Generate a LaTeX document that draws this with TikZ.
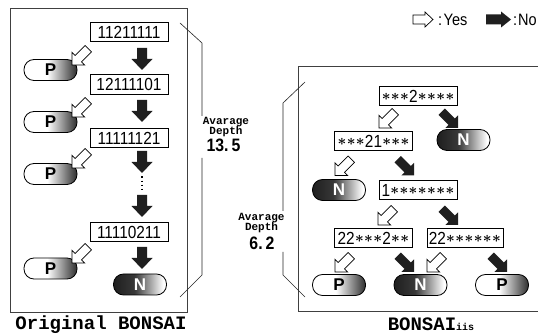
\documentclass[tikz,border=0pt]{standalone}
\usepackage{fontspec}
\setmainfont{Liberation Sans}
\newfontfamily\condfont[FakeStretch=0.88]{Liberation Sans}
\newfontfamily\pnfont{Liberation Sans}
\newfontfamily\courfont{Liberation Mono}
\pgfdeclarehorizontalshading{pshade}{100bp}{color(0bp)=(white); color(25bp)=(white); color(47bp)=(white); color(75bp)=(black!82); color(100bp)=(black!82)}
\pgfdeclarehorizontalshading{nshade}{100bp}{color(0bp)=(black!88); color(25bp)=(black!88); color(45bp)=(black!78); color(72bp)=(white); color(100bp)=(white)}
\newcommand{\ak}{\makebox[9.2pt]{\raisebox{1.4pt}{\scalebox{0.88}{\boldmath$\ast$}}}}
\tikzset{
  codebox/.style={draw=black, line width=0.8pt, minimum width=78pt, minimum height=19.5pt, inner sep=0pt, font=\condfont\fontsize{17.5}{20}\selectfont},
  pill/.style={draw=black, line width=0.8pt, rounded corners=10pt, minimum width=53pt, minimum height=21pt, inner sep=0pt, font=\pnfont\bfseries\fontsize{17}{20}\selectfont},
  pnode/.style={pill, shading=pshade},
  nnode/.style={pill, shading=nshade, text=white},
  panel/.style={draw=black!75, line width=0.9pt},
  bracket/.style={draw=black!85, line width=0.6pt},
  yesarrow/.style={draw=black, fill=white, line width=0.7pt, line join=miter},
  noarrow/.style={fill=black!88},
  lbl/.style={anchor=base, inner sep=0pt, font=\courfont\bfseries\fontsize{11}{12}\selectfont},
  lblnum/.style={anchor=base, inner sep=0pt, font=\condfont\bfseries\fontsize{18}{20}\selectfont},
  legtext/.style={anchor=base west, inner sep=0pt, font=\condfont\fontsize{16.5}{20}\selectfont},
  yesdiag/.pic={\filldraw[yesarrow] (0,0) -- (-9,9) -- (-9,4.5) -- (-23,4.5) -- (-23,-4.5) -- (-9,-4.5) -- (-9,-9) -- cycle;},
  nodiag/.pic={\fill[noarrow] (0,0) -- (-9,9) -- (-9,4.5) -- (-23,4.5) -- (-23,-4.5) -- (-9,-4.5) -- (-9,-9) -- cycle;},
  novert/.pic={\fill[noarrow] (0,0) -- (-11,10.5) -- (-11,5) -- (-22,5) -- (-22,-5) -- (-11,-5) -- (-11,-10.5) -- cycle;},
  yesleg/.pic={\filldraw[yesarrow] (0,0) -- (-8,7.5) -- (-8,4.5) -- (-20,4.5) -- (-20,-4.5) -- (-8,-4.5) -- (-8,-7.5) -- cycle;},
  noleg/.pic={\fill[noarrow] (0,0) -- (-10,8) -- (-10,5) -- (-25,5) -- (-25,-5) -- (-10,-5) -- (-10,-8) -- cycle;}
}
\begin{document}
\begin{tikzpicture}[x=1pt,y=-1pt]
\useasboundingbox (0,0) rectangle (538,336);
\fill[white] (0,0) rectangle (538,336);

% legend
\pic at (433,19.5) {yesleg};
\node[legtext] (yes) at (438,26) {:\kern1.5pt Yes};
\pic at (511,19.5) {noleg};
\node[legtext] (no) at (513,26) {:\kern1pt No};

% ---------------- left panel ----------------
\draw[panel] (10,8) rectangle (187,312);
\node[codebox] (b1) at (129,32) {11211111};
\node[codebox] (b2) at (129,84.5) {12111101};
\node[codebox] (b3) at (129,138) {11111121};
\node[codebox] (b4) at (129,232) {11110211};
\node[pnode] (p1) at (50.5,70) {P};
\node[pnode] (p2) at (50.5,122) {P};
\node[pnode] (p3) at (50.5,174) {P};
\node[pnode] (p4) at (50.5,268.5) {P};
\node[nnode] (n1) at (140,284.5) {N};

\pic[rotate=-90] at (142,70) {novert};
\pic[rotate=-90] at (142,122) {novert};
\pic[rotate=-90] at (142,173) {novert};
\pic[rotate=-90] at (142,217) {novert};
\pic[rotate=-90] at (142,269) {novert};
\draw[line width=1.3pt, dash pattern=on 1.5pt off 2.6pt] (142,176.5) -- (142,192);

\pic[rotate=-135] at (72,65) {yesdiag};
\pic[rotate=-135] at (72,117) {yesdiag};
\pic[rotate=-135] at (72,168) {yesdiag};
\pic[rotate=-135] at (72,263) {yesdiag};

% left bracket and label
\coordinate (lbt) at (180,23);
\coordinate (lbb) at (180,297);
\draw[bracket] (lbt) -- (202,43) -- (202,116);
\draw[bracket] (202,158) -- (202,275) -- (lbb);
\node[lbl] (la1) at (226,125) {Avarage};
\node[lbl] (la2) at (226,134.5) {Depth};
\node[lblnum] (la3) at (223.5,152) {13.\,5};

\node[anchor=base, inner sep=0pt, font=\courfont\bfseries\fontsize{19}{20}\selectfont] (t1) at (101,330) {Original BONSAI};

% ---------------- right panel ----------------
\draw[panel] (539,66.7) -- (298,66.7) -- (298,311.5) -- (539,311.5);
\node[codebox, minimum height=18.5pt] (r1) at (418,96) {\ak\ak\ak2\ak\ak\ak\ak};
\node[codebox] (r2) at (373.5,141) {\ak\ak\ak21\ak\ak\ak};
\node[codebox] (r3) at (418,190) {1\ak\ak\ak\ak\ak\ak\ak};
\node[codebox] (r4) at (373.5,238) {22\ak\ak\ak2\ak\ak};
\node[codebox, minimum width=76pt] (r5) at (465,238) {22\ak\ak\ak\ak\ak\ak};
\node[nnode] (rn1) at (463.5,140) {N};
\node[nnode] (rn2) at (339,190) {N};
\node[pnode] (rp1) at (339,285) {P};
\node[nnode] (rn3) at (420.5,285) {N};
\node[pnode] (rp2) at (502,285) {P};

\pic[rotate=-135] at (379,128) {yesdiag};
\pic[rotate=-45] at (458,128) {nodiag};
\pic[rotate=-135] at (335,175.5) {yesdiag};
\pic[rotate=-45] at (414,175.5) {nodiag};
\pic[rotate=-135] at (378,225) {yesdiag};
\pic[rotate=-45] at (458,225) {nodiag};
\pic[rotate=-135] at (335,272) {yesdiag};
\pic[rotate=-45] at (414,272) {nodiag};
\pic[rotate=-135] at (427,272) {yesdiag};
\pic[rotate=-45] at (507,272) {nodiag};

% right bracket and label
\coordinate (rbt) at (305,82);
\coordinate (rbb) at (305,297);
\draw[bracket] (rbt) -- (283,103) -- (283,211);
\draw[bracket] (283,252) -- (283,275) -- (rbb);
\node[lbl] (ra1) at (261.5,221) {Avarage};
\node[lbl] (ra2) at (261.5,231) {Depth};
\node[lblnum] (ra3) at (262,250) {6.\,2};

\node[anchor=base, inner sep=0pt] (t2) at (431,330.5) {\courfont\bfseries\fontsize{19}{20}\selectfont BONSAI\fontsize{10}{12}\selectfont iis};
\end{tikzpicture}
\end{document}
